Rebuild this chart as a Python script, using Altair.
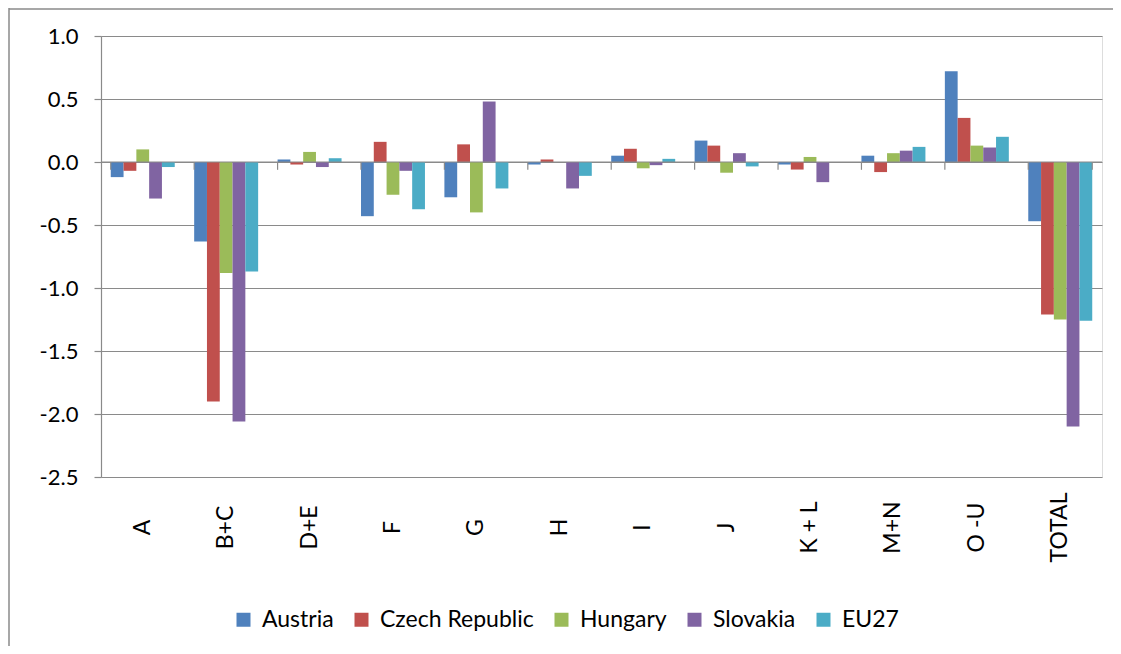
import altair as alt
import pandas as pd

categories = ["A", "B+C", "D+E", "F", "G", "H", "I", "J", "K + L", "M+N", "O -U", "TOTAL"]
series = ["Austria", "Czech Republic", "Hungary", "Slovakia", "EU27"]
colors = ["#4F81BD", "#C0504D", "#9BBB59", "#8064A2", "#4BACC6"]

austria = [-0.12, -0.63, 0.02, -0.43, -0.28, -0.02, 0.05, 0.17, -0.02, 0.05, 0.72, -0.47]
czech = [-0.07, -1.90, -0.02, 0.16, 0.14, 0.02, 0.105, 0.13, -0.06, -0.08, 0.35, -1.21]
hungary = [0.10, -0.88, 0.08, -0.26, -0.40, 0.0, -0.05, -0.085, 0.04, 0.07, 0.13, -1.25]
slovakia = [-0.29, -2.06, -0.04, -0.07, 0.48, -0.21, -0.025, 0.07, -0.16, 0.09, 0.115, -2.10]
eu27 = [-0.04, -0.87, 0.03, -0.375, -0.21, -0.11, 0.025, -0.035, 0.0, 0.12, 0.20, -1.26]

values = [austria, czech, hungary, slovakia, eu27]
rows = []
for s, vals in zip(series, values):
    for c, v in zip(categories, vals):
        rows.append({"category": c, "series": s, "value": v})
df = pd.DataFrame(rows)

W, H = 1001, 441
FONT = "Lato"
GRID = "#8a8a8a"

xscale = alt.Scale(domain=categories, paddingInner=0.233, paddingOuter=0.117)
yscale = alt.Scale(domain=[-2.5, 1.0], nice=False, zero=False)

bars = alt.Chart(df).mark_bar(stroke=None).encode(
    x=alt.X("category:N", sort=categories, scale=xscale,
            axis=alt.Axis(title=None, labelAngle=270, labelAlign="center",
                          labelBaseline="middle", labelPadding=50, ticks=False,
                          domain=False, labelFont=FONT, labelFontSize=23,
                          labelColor="#000000")),
    xOffset=alt.XOffset("series:N", sort=series,
                        scale=alt.Scale(domain=series, paddingInner=0, paddingOuter=0)),
    y=alt.Y("value:Q", stack=None, scale=yscale,
            axis=alt.Axis(title=None, values=[1.0, 0.5, 0.0, -0.5, -1.0, -1.5, -2.0, -2.5],
                          labelExpr="replace(format(datum.value, '.1f'), '\u2212', '-')",
                          grid=True, gridColor=GRID, gridWidth=1.2,
                          domainColor=GRID, domainWidth=1.2, tickColor=GRID,
                          tickWidth=1.2, tickSize=7, labelPadding=16,
                          labelFont=FONT, labelFontSize=22, labelColor="#000000")),
    color=alt.Color("series:N", sort=series,
                    scale=alt.Scale(domain=series, range=colors),
                    legend=alt.Legend(title=None, orient="none", direction="horizontal",
                                      legendX=131, legendY=572, symbolType="square",
                                      symbolSize=196, symbolStrokeWidth=0,
                                      labelFont=FONT, labelFontSize=23,
                                      labelColor="#000000", labelOffset=7,
                                      columnPadding=16)),
)

zero_df = pd.DataFrame({"y": [0.0]})
zero_line = alt.Chart(zero_df).mark_rule(color=GRID, strokeWidth=1.2).encode(
    y=alt.Y("y:Q", scale=yscale), x=alt.value(0), x2=alt.value(W)
)

tick_df = pd.DataFrame({"category": categories, "y": [0.0] * len(categories), "y2": [-0.062] * len(categories)})
ticks_left = alt.Chart(tick_df).mark_rule(color=GRID, strokeWidth=1.2).encode(
    x=alt.X("category:N", sort=categories, scale=xscale, bandPosition=0),
    y=alt.Y("y:Q", scale=yscale),
    y2="y2:Q",
)
ticks_right = alt.Chart(tick_df.iloc[[-1]]).mark_rule(color=GRID, strokeWidth=1.2).encode(
    x=alt.X("category:N", sort=categories, scale=xscale, bandPosition=1),
    y=alt.Y("y:Q", scale=yscale),
    y2="y2:Q",
)

border_df = pd.DataFrame({"k": [0]})
border_left = alt.Chart(border_df).mark_rule(color="#8a8a8a", strokeWidth=1.5).encode(
    x=alt.value(-92), y=alt.value(-28), y2=alt.value(H + 200)
)
border_top = alt.Chart(border_df).mark_rule(color="#8a8a8a", strokeWidth=1.5).encode(
    x=alt.value(-92), x2=alt.value(W + 20), y=alt.value(-27)
)

chart = alt.layer(bars, zero_line, ticks_left, ticks_right, border_left, border_top).properties(
    width=W, height=H,
    autosize=alt.AutoSizeParams(type="none"),
    padding={"left": 93, "top": 28, "right": 11, "bottom": 169},
).configure_view(stroke=None).configure(background="white")

chart.save("out.html", embed_options={"renderer": "svg", "actions": False})
